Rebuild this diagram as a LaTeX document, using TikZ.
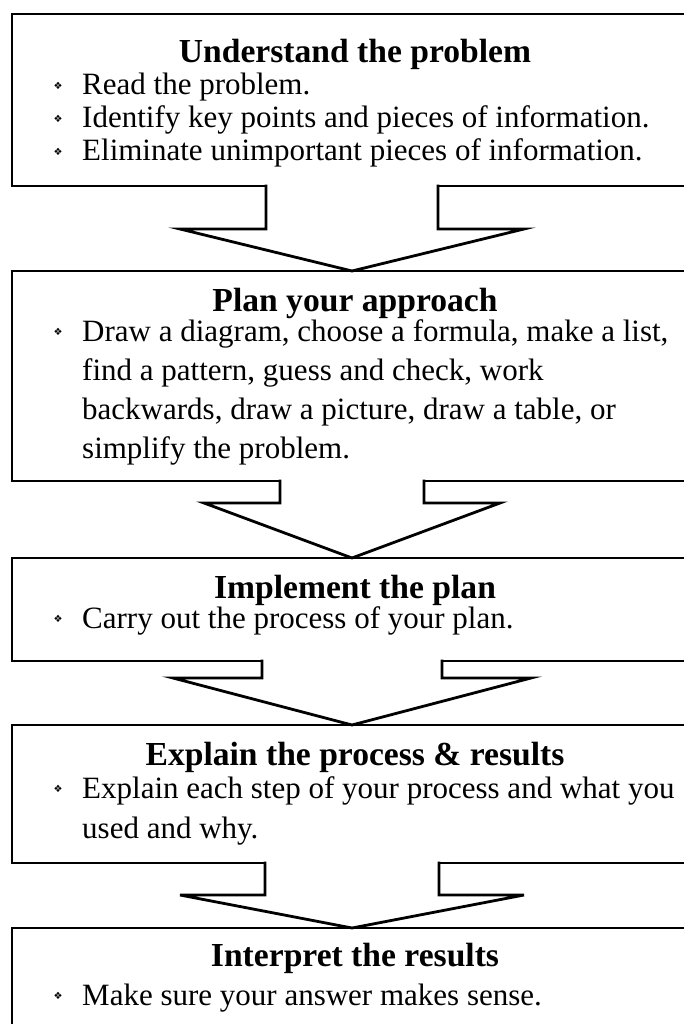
\documentclass[tikz,border=0pt]{standalone}
\usepackage{fontspec}
\setmainfont{Liberation Serif}
\newfontfamily\symfont{DejaVu Sans}
\usetikzlibrary{calc}

\tikzset{
  stepbox/.style={draw, line width=2.8pt, minimum width=680pt, anchor=north west, inner sep=0pt, outer sep=0pt},
  steptitle/.style={font=\fontsize{33.6}{36}\selectfont\bfseries, anchor=base, inner sep=0pt},
  steptext/.style={font=\fontsize{31}{36}\selectfont, anchor=base west, inner sep=0pt},
  stepbullet/.style={font=\symfont\fontsize{10}{10}\selectfont, inner sep=0pt},
  flowarrow/.style={line width=2.8pt, line join=miter}
}

\begin{document}
\begin{tikzpicture}[x=1pt, y=-1pt]
\useasboundingbox (0,0) rectangle (684,1024);
\clip (0,0) rectangle (684,1024);

% Boxes of the five steps
\node[stepbox, minimum height=172pt] (understand) at (12,14) {};
\node[stepbox, minimum height=210pt] (plan) at (12,271) {};
\node[stepbox, minimum height=103pt] (implement) at (12,558) {};
\node[stepbox, minimum height=138pt] (explain) at (12,725) {};
\node[stepbox, minimum height=130pt] (interpret) at (12,928) {};

% Arrow from understand to plan
\fill[white] ($(understand.south)+(-86,-3)$) -- ++(0,46) -- ++(-86,0) -- (plan.north) -- ($(understand.south)+(172,43)$) -- ++(-86,0) -- ++(0,-46) -- cycle;
\draw[flowarrow] ($(understand.south)+(-86,-1.4)$) -- ++(0,44.4) -- ++(-86,0) -- (plan.north) -- ($(understand.south)+(172,43)$) -- ++(-86,0) -- ++(0,-44.4);

% Arrow from plan to implement
\fill[white] ($(plan.south)+(-72,-3)$) -- ++(0,25) -- ++(-76,0) -- (implement.north) -- ($(plan.south)+(148,22)$) -- ++(-76,0) -- ++(0,-25) -- cycle;
\draw[flowarrow] ($(plan.south)+(-72,-1.4)$) -- ++(0,23.4) -- ++(-76,0) -- (implement.north) -- ($(plan.south)+(148,22)$) -- ++(-76,0) -- ++(0,-23.4);

% Arrow from implement to explain
\fill[white] ($(implement.south)+(-90,-3)$) -- ++(0,20) -- ++(-89,0) -- (explain.north) -- ($(implement.south)+(179,17)$) -- ++(-89,0) -- ++(0,-20) -- cycle;
\draw[flowarrow] ($(implement.south)+(-90,-1.4)$) -- ++(0,18.4) -- ++(-89,0) -- (explain.north) -- ($(implement.south)+(179,17)$) -- ++(-89,0) -- ++(0,-18.4);

% Arrow from explain to interpret
\fill[white] ($(explain.south)+(-87,-3)$) -- ++(0,35) -- ++(-85,0) -- (interpret.north) -- ($(explain.south)+(172,32)$) -- ++(-85,0) -- ++(0,-35) -- cycle;
\draw[flowarrow] ($(explain.south)+(-87,-1.4)$) -- ++(0,33.4) -- ++(-85,0) -- (interpret.north) -- ($(explain.south)+(172,32)$) -- ++(-85,0) -- ++(0,-33.4);

% Step 1
\node[steptitle] (ut) at (355,63) {Understand the problem};
\node[stepbullet] (ub1) at (58,86) {❖};
\node[steptext] (u1) at (82,95) {Read the problem.};
\node[stepbullet] (ub2) at (58,119) {❖};
\node[steptext] (u2) at (82,128) {Identify key points and pieces of information.};
\node[stepbullet] (ub3) at (58,152) {❖};
\node[steptext] (u3) at (82,161) {Eliminate unimportant pieces of information.};

% Step 2
\node[steptitle] (pt) at (355,311) {Plan your approach};
\node[stepbullet] (pb1) at (58,332) {❖};
\node[steptext] (p1) at (82,341) {Draw a diagram, choose a formula, make a list,};
\node[steptext] (p2) at (82,380) {find a pattern, guess and check, work};
\node[steptext] (p3) at (82,419) {backwards, draw a picture, draw a table, or};
\node[steptext] (p4) at (82,458) {simplify the problem.};

% Step 3
\node[steptitle] (it) at (355,598) {Implement the plan};
\node[stepbullet] (ib1) at (58,619) {❖};
\node[steptext] (i1) at (82,628) {Carry out the process of your plan.};

% Step 4
\node[steptitle] (et) at (355,765) {Explain the process \& results};
\node[stepbullet] (eb1) at (58,789) {❖};
\node[steptext] (e1) at (82,798) {Explain each step of your process and what you};
\node[steptext] (e2) at (82,838) {used and why.};

% Step 5
\node[steptitle] (rt) at (355,966) {Interpret the results};
\node[stepbullet] (rb1) at (58,996) {❖};
\node[steptext] (r1) at (82,1005) {Make sure your answer makes sense.};

\end{tikzpicture}
\end{document}
